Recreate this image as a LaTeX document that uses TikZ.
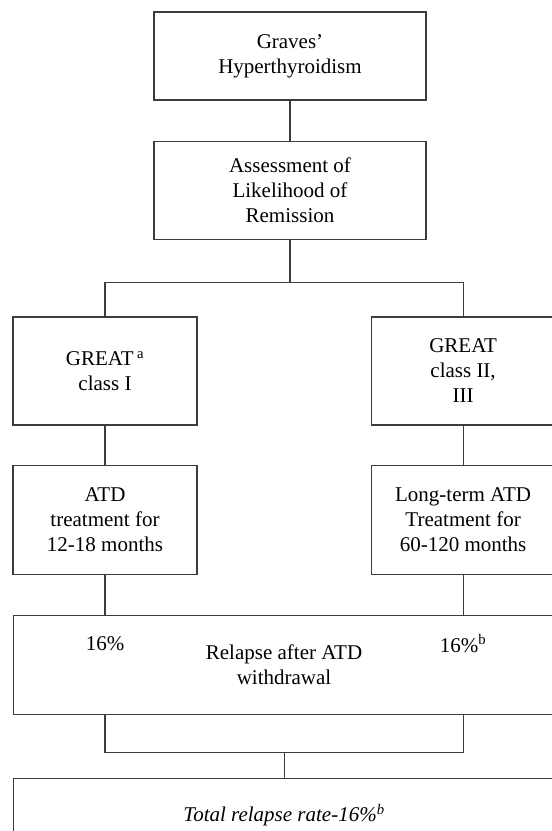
\documentclass[tikz,border=0pt]{standalone}
\usepackage{fontspec}
\setmainfont{Liberation Serif}
\usepackage{xcolor}
\usetikzlibrary{positioning,calc}
\definecolor{boxline}{RGB}{60,60,60}
\begin{document}
\begin{tikzpicture}[
      x=1pt, y=-1pt,
      box/.style={draw=boxline, line width=1.1pt, align=center,
                  minimum width=184pt, minimum height=108pt,
                  font=\fontsize{21}{25}\selectfont},
      topbox/.style={box, minimum width=272pt},
      widebox/.style={box, minimum width=541pt, minimum height=99pt},
      lbl/.style={font=\fontsize{21}{25}\selectfont, inner sep=0pt},
      conn/.style={draw=boxline, line width=1.1pt}
  ]
  \useasboundingbox (0,0) rectangle (552,831);
  \clip (0,0) rectangle (552,831);

  %% ---- top column
  \node[topbox, minimum height=88pt] (grav)   at (290,56) {Graves'\\Hyperthyroidism};
  \node[topbox, minimum height=98pt, below=40pt of grav] (assess) {Assessment of\\Likelihood of\\Remission};

  %% ---- two branches
  \node[box] (cls1) at (105,371) {GREAT\,\textsuperscript{a}\\class I};
  \node[box, right=173pt of cls1]   (cls2) {GREAT\\class II,\\III};
  \node[box, minimum height=109pt, below=39pt of cls1] (atd1) {ATD\\treatment for\\12-18 months};
  \node[box, minimum height=109pt, below=39pt of cls2] (atd2) {Long-term ATD\\Treatment for\\60-120 months};

  %% ---- relapse and total (full width)
  \coordinate (mid) at ($(atd1.south)!0.5!(atd2.south)$);
  \node[widebox, below=40pt of mid] (relapse) {Relapse after ATD\\withdrawal};
  \node[lbl] (pct1) at ([yshift=-29pt]relapse.north -| atd1.south) {16\%};
  \node[lbl] (pct2) at ([yshift=-29pt]relapse.north -| atd2.south) {16\%\textsuperscript{b}};
  \node[widebox, minimum height=74pt, below=63pt of relapse] (total) {\textit{Total relapse rate-16\%\textsuperscript{b}}};

  %% ---- connectors
  \draw[conn] (grav) -- (assess);
  \draw[conn] (assess.south) -- ++(0,43) coordinate (split);
  \draw[conn] (cls1.north) |- (split) -| (cls2.north);
  \draw[conn] (cls1) -- (atd1);
  \draw[conn] (cls2) -- (atd2);
  \draw[conn] (atd1.south) -- (atd1.south |- relapse.north);
  \draw[conn] (atd2.south) -- (atd2.south |- relapse.north);
  \coordinate (merge) at ($(relapse.south)+(0,38)$);
  \draw[conn] (relapse.south -| atd1.south) |- (merge) -| (relapse.south -| atd2.south);
  \draw[conn] (merge) -- (total.north);
\end{tikzpicture}
\end{document}
